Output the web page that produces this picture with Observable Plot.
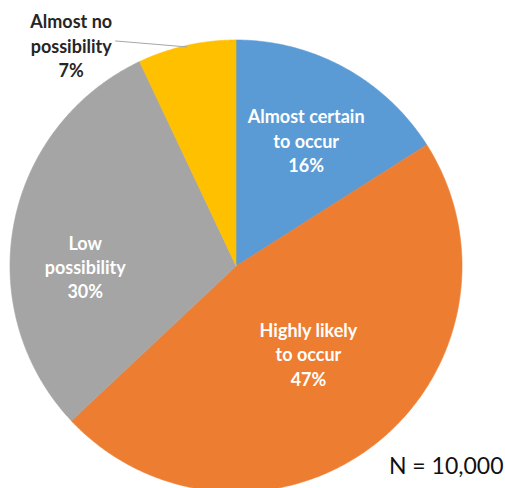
<!DOCTYPE html>
<html><head><meta charset="utf-8">
<script src="https://cdn.jsdelivr.net/npm/d3@7"></script>
<script src="https://cdn.jsdelivr.net/npm/@observablehq/plot@0.6"></script>
<style>body{margin:0;background:#fff;} #chart svg{display:block;}</style>
</head><body><div id="chart"></div>
<script>
// ---- data ----
const categories = ["Almost certain to occur", "Highly likely to occur", "Low possibility", "Almost no possibility"];
const labelLines = ["Almost certain\nto occur", "Highly likely\nto occur", "Low\npossibility", "Almost no\npossibility"];
const shares = [16, 47, 30, 7];
const colors = ["#5B9BD5", "#ED7D31", "#A5A5A5", "#FFC000"];
const sampleNote = "N = 10,000";

// ---- layout (pixels) ----
const W = 505, H = 488, R = 226, CX = 236, CY = 266;
// label placement style: radius (fraction of R), pixel offsets, inside?
const labelStyle = [
  {r: 0.64, dx: 0, dy: 0, inside: true},
  {r: 0.505, dx: 2, dy: -3, inside: true},
  {r: 0.668, dx: -3, dy: 28, inside: true},
  {r: 1.0, dx: -116, dy: -1, inside: false}
];

const total = d3.sum(shares);
let acc = 0;
const slices = categories.map((c, i) => {
  const a0 = acc / total * 2 * Math.PI; acc += shares[i];
  const a1 = acc / total * 2 * Math.PI;
  return {category: c, share: shares[i], a0, a1, mid: (a0 + a1) / 2, i};
});
// arc outline points per slice (angle clockwise from 12 o'clock)
const arcPts = slices.flatMap(s => {
  const n = Math.max(2, Math.ceil((s.a1 - s.a0) / (Math.PI / 360)));
  return d3.range(n + 1).map(k => {
    const a = s.a0 + (s.a1 - s.a0) * k / n;
    return {category: s.category, x: Math.sin(a), y: Math.cos(a)};
  });
});
const labels = slices.map(s => {
  const st = labelStyle[s.i];
  return {category: s.category, x: st.r * Math.sin(s.mid), y: st.r * Math.cos(s.mid),
    text: labelLines[s.i] + "\n" + s.share + "%", dx: st.dx, dy: st.dy, inside: st.inside};
});
const outside = labels.filter(d => !d.inside);
const leaders = outside.map(d => ({x1: d.x, y1: d.y - 1 / R, x2: d.x + (d.dx + 44) / R, y2: d.y - (d.dy - 4) / R}));

const textOpts = {fontFamily: "Lato, 'Open Sans', sans-serif", fontWeight: "bold", fontSize: 18, lineHeight: 1.35};

const plot = Plot.plot({
  width: W, height: H, margin: 0,
  x: {domain: [-CX / R, (W - CX) / R], axis: null},
  y: {domain: [-(H - CY) / R, CY / R], axis: null},
  color: {domain: categories, range: colors},
  style: {background: "#fff"},
  marks: [
    Plot.area(arcPts, {x1: "x", y1: "y", x2: () => 0, y2: () => 0, z: "category", fill: "category", stroke: "category", strokeWidth: 0.6, curve: "linear"}),
    Plot.link(leaders, {x1: "x1", y1: "y1", x2: "x2", y2: "y2", stroke: "#a6a6a6", strokeWidth: 1}),
    ...labels.filter(d => d.inside).map(d => Plot.text([d], {x: "x", y: "y", text: "text", dx: d.dx, dy: d.dy, fill: "#fff", ...textOpts})),
    ...outside.map(d => Plot.text([d], {x: "x", y: "y", text: "text", dx: d.dx, dy: d.dy, fill: "#262626", ...textOpts})),
    Plot.text([sampleNote], {frameAnchor: "bottom-right", text: d => d, dx: -2, dy: -15, textAnchor: "end", fontFamily: "Lato, 'Open Sans', sans-serif", fontSize: 23, fill: "#111"})
  ]
});
document.getElementById("chart").append(plot);
</script>
</body></html>
